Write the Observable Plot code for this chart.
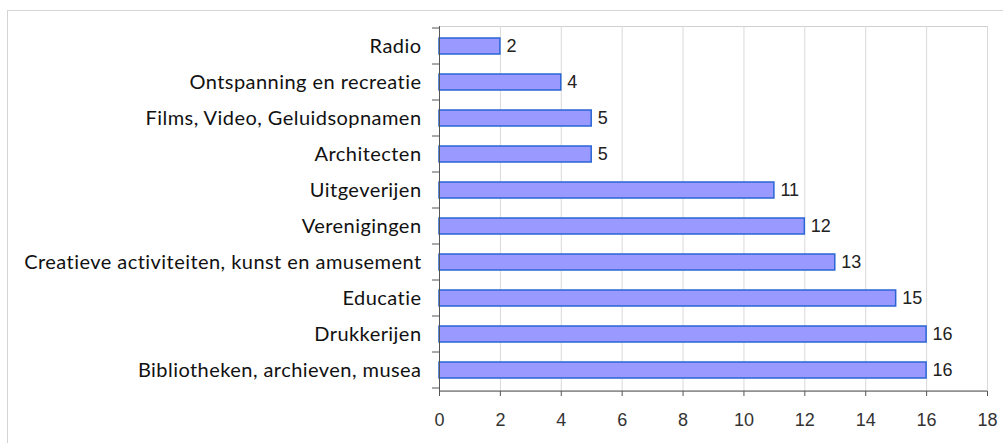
<!DOCTYPE html>
<html>
<head>
<meta charset="utf-8">
<script src="https://cdn.jsdelivr.net/npm/d3@7"></script>
<script src="https://cdn.jsdelivr.net/npm/@observablehq/plot@0.6"></script>
<style>
  html, body { margin: 0; padding: 0; background: #fff; overflow: hidden; }
  #wrap { position: relative; width: 1003px; height: 443px; }
  #border { position: absolute; left: 7px; top: 10px; width: 1010px; height: 450px; border: 1px solid #d4d4d4; box-sizing: border-box; }
  #chart { position: absolute; left: 0; top: 0; }
</style>
</head>
<body>
<div id="wrap"><div id="border"></div><div id="chart"></div></div>
<script>
const categories = [
  "Radio",
  "Ontspanning en recreatie",
  "Films, Video, Geluidsopnamen",
  "Architecten",
  "Uitgeverijen",
  "Verenigingen",
  "Creatieve activiteiten, kunst en amusement",
  "Educatie",
  "Drukkerijen",
  "Bibliotheken, archieven, musea"
];
const values = [2, 4, 5, 5, 11, 12, 13, 15, 16, 16];
const xTicks = [0, 2, 4, 6, 8, 10, 12, 14, 16, 18];

const data = categories.map((c, i) => ({category: c, value: values[i]}));

const plot = Plot.plot({
  width: 1003,
  height: 443,
  marginLeft: 439,
  marginRight: 16,
  marginTop: 26,
  marginBottom: 52,
  style: {background: "transparent", overflow: "visible"},
  x: {domain: [0, 18], ticks: xTicks, label: null},
  y: {domain: categories, paddingInner: 0.55, paddingOuter: 0.3, label: null},
  marks: [
    Plot.frame({stroke: "#d0d0d0"}),
    Plot.ruleX(xTicks.slice(1), {stroke: "#d9d9d9", strokeWidth: 1}),
    Plot.barX(data, {x: "value", y: "category", fill: "#9999ff", stroke: "#2a66d4", strokeWidth: 1.5}),
    Plot.text(data, {x: "value", y: "category", text: d => String(d.value), textAnchor: "start", dx: 6,
      fill: "#222", fontSize: 18, fontFamily: "Liberation Sans, Arial, sans-serif"}),
    Plot.axisX({ticks: xTicks, tickSize: 5, tickPadding: 17, stroke: "#555", fill: "#333",
      fontSize: 18, fontFamily: "Liberation Sans, Arial, sans-serif", label: null}),
    Plot.axisY({tickSize: 0, tickPadding: 18, fill: "#111", fontSize: 20, fontFamily: "Lato, 'Noto Sans', sans-serif", label: null}),
    Plot.ruleX([0], {stroke: "#555", strokeWidth: 1})
  ]
});

const ys = plot.scale("y");
const xs = plot.scale("x");
const svg = d3.select(plot);
svg.selectAll("g[aria-label='y-axis tick label'] text").style("letter-spacing", "0.45px");
const step = ys.step;
const first = ys.apply(ys.domain[0]) - (ys.step - ys.bandwidth) / 2;
const boundaries = d3.range(ys.domain.length + 1).map(i => first + i * step);
const x0 = xs.apply(0), x1 = xs.apply(18);
svg.append("g").selectAll("line").data(boundaries).join("line")
  .attr("x1", x0 - 7).attr("x2", x0).attr("y1", d => d).attr("y2", d => d)
  .attr("stroke", "#555");
const yBottom = plot.scale("y").range[1];
svg.append("line").attr("x1", x0).attr("x2", x1).attr("y1", yBottom).attr("y2", yBottom).attr("stroke", "#555");

document.getElementById("chart").appendChild(plot);
</script>
</body>
</html>
